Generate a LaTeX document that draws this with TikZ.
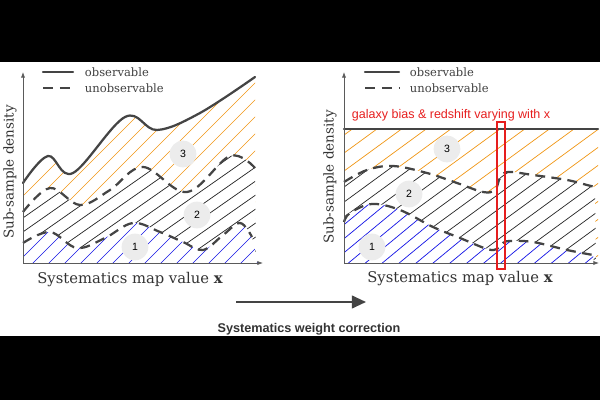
\documentclass[tikz,border=0pt]{standalone}
\usepackage{fontspec}
\setmainfont{DejaVu Serif}
\setsansfont{Liberation Sans}
\usetikzlibrary{positioning,arrows.meta}
\usepackage{xcolor}
\definecolor{curvegray}{RGB}{68,68,68}
\definecolor{axisgray}{RGB}{90,90,90}
\definecolor{hatchorange}{RGB}{240,150,20}
\definecolor{hatchblue}{RGB}{20,20,230}
\definecolor{badgegray}{RGB}{236,236,236}
\definecolor{boxred}{RGB}{230,30,30}

\begin{document}
\begin{tikzpicture}[
  x=0.025cm, y=-0.025cm,
  obs/.style={draw=curvegray, line width=1.6pt, line cap=round},
  unobs/.style={draw=curvegray, line width=1.6pt, dash pattern=on 7pt off 4.5pt},
  axis/.style={draw=axisgray, line width=0.6pt, -{Latex[length=4pt,width=3pt]}},
  orangehatch/.style={draw=hatchorange, line width=0.5pt},
  blackhatch/.style={draw=black!85, line width=0.5pt},
  bluehatch/.style={draw=hatchblue, line width=0.5pt},
  badge/.style={circle, fill=badgegray, minimum size=19pt, inner sep=0pt,
                font=\sffamily\fontsize{7.5}{8}\selectfont},
  axislbl/.style={text=black!80, font=\fontsize{10.5}{12}\selectfont},
  ylbl/.style={text=black!80, rotate=90, font=\fontsize{9.6}{11}\selectfont},
  leglbl/.style={text=black!75, anchor=west, font=\fontsize{8.2}{9}\selectfont},
  redlbl/.style={text=boxred, anchor=west, font=\sffamily\fontsize{8.9}{10}\selectfont},
  smooth, tension=0.6,
]
\useasboundingbox (0,0) rectangle (600,400);

% ---- Letterbox bars ---------------------------------------------------------
\fill[black] (0,0) rectangle (600,62);
\fill[black] (0,336) rectangle (600,400);

% ---- Left panel: before the correction --------------------------------------
% region 3 (orange), below the observable curve
\begin{scope}
  \clip (23,263) -- plot coordinates {(23,183) (48,156) (73,173)
    (125,117) (157,130) (200,113) (255,77)} -- (255,263) -- cycle;
  \foreach \y in {100,117,...,600}{
    \draw[orangehatch] (0,\y) -- ++(300,-300);
  }
\end{scope}
% region 2 (black), below the upper dashed curve
\begin{scope}
  \fill[white] (23,263) -- plot coordinates {(23,212) (50,188) (80,205)
    (110,190) (143,167) (187,192) (230,156) (255,168)} -- (256,263) -- cycle;
  \clip (23,263) -- plot coordinates {(23,212) (50,188) (80,205)
    (110,190) (143,167) (187,192) (230,156) (255,168)} -- (256,263) -- cycle;
  \foreach \y in {150,164,...,500}{
    \draw[blackhatch] (0,\y) -- ++(300,-210);
  }
\end{scope}
% region 1 (blue), below the lower dashed curve
\begin{scope}
  \fill[white] (23,263) -- plot coordinates {(23,243) (50,232) (77,248)
    (105,238) (133,223) (160,232) (183,242) (203,250) (222,236) (240,223)
    (252,237)} -- (258,263) -- cycle;
  \clip (23,263) -- plot coordinates {(23,243) (50,232) (77,248)
    (105,238) (133,223) (160,232) (183,242) (203,250) (222,236) (240,223)
    (252,237)} -- (258,263) -- cycle;
  \foreach \y in {200,216,...,600}{
    \draw[bluehatch] (0,\y) -- ++(300,-300);
  }
\end{scope}

% curves
\draw[obs] plot coordinates {(23,183) (48,156) (73,173)
  (125,117) (157,130) (200,113) (255,77)};
\draw[unobs] plot coordinates {(23,212) (50,188) (80,205)
  (110,190) (143,167) (187,192) (230,156) (255,168)};
\draw[unobs] plot coordinates {(23,243) (50,232) (77,248)
  (105,238) (133,223) (160,232) (183,242) (203,250) (222,236) (240,223) (252,237)};

% axes
\draw[axis] (23,263) -- (23,72);
\draw[axis] (23,263) -- (263,263);
\node[ylbl] (ylblL) at (10,172) {Sub-sample density};
\node[axislbl] (xlblL) at (130,280) {Systematics map value \textbf{x}};

% legend
\draw[obs] (43,72) -- (73,72);
\draw[unobs, dash pattern=on 7pt off 5pt] (43,88) -- (75,88);
\node[leglbl] (obsL) at (80,72) {observable};
\node[leglbl] (unobsL) at (80,88) {unobservable};

% badges
\node[badge] (threeL) at (183,154) {3};
\node[badge] (twoL) at (197,215) {2};
\node[badge] (oneL) at (135,247) {1};

% ---- Right panel: after the correction --------------------------------------
% region 3 (orange), below the flat observable line
\begin{scope}
  \clip (344,129) rectangle (598,263);
  \foreach \y in {120,138,...,600}{
    \draw[orangehatch] (340,\y) -- ++(260,-190);
  }
\end{scope}
% region 2 (black)
\begin{scope}
  \fill[white] (344,263) -- plot coordinates {(344,182) (367,170) (393,166)
    (427,173) (457,183) (483,192) (495,190) (500,178) (508,172) (533,175)
    (567,180) (587,185) (595,187)} -- (596,263) -- cycle;
  \clip (344,263) -- plot coordinates {(344,182) (367,170) (393,166)
    (427,173) (457,183) (483,192) (495,190) (500,178) (508,172) (533,175)
    (567,180) (587,185) (595,187)} -- (596,263) -- cycle;
  \foreach \y in {160,175,...,600}{
    \draw[blackhatch] (340,\y) -- ++(260,-190);
  }
\end{scope}
% region 1 (blue)
\begin{scope}
  \fill[white] (344,263) -- plot coordinates {(344,222) (350,213) (372,204)
    (400,210) (433,227) (460,238) (487,249) (497,249) (503,243) (510,241)
    (533,242) (567,250) (593,255)} -- (594,263) -- cycle;
  \clip (344,263) -- plot coordinates {(344,222) (350,213) (372,204)
    (400,210) (433,227) (460,238) (487,249) (497,249) (503,243) (510,241)
    (533,242) (567,250) (593,255)} -- (594,263) -- cycle;
  \foreach \y in {200,214,...,600}{
    \draw[bluehatch] (340,\y) -- ++(260,-215);
  }
\end{scope}

% curves
\draw[obs] (344,129) -- (598,129);
\draw[unobs] plot coordinates {(344,182) (367,170) (393,166)
  (427,173) (457,183) (483,192) (495,190) (500,178) (508,172) (533,175) (567,180)
  (587,185) (595,187)};
\draw[unobs] plot coordinates {(344,222) (350,213) (372,204)
  (400,210) (433,227) (460,238) (487,249) (497,249) (503,243) (510,241) (533,242)
  (567,250) (593,255)};

% axes
\draw[axis] (344,263) -- (344,72);
\draw[axis] (344,263) -- (599,263);
\node[ylbl] (ylblR) at (330,177) {Sub-sample density};
\node[axislbl] (xlblR) at (460,279) {Systematics map value \textbf{x}};

% legend
\draw[obs] (365,72) -- (399,72);
\draw[unobs, dash pattern=on 7pt off 5pt] (365,88) -- (399,88);
\node[leglbl] (obsR) at (405,72) {observable};
\node[leglbl] (unobsR) at (405,88) {unobservable};

% varying bias / redshift
\node[redlbl] (biaslbl) at (347,115) {galaxy bias \& redshift varying with x};
\draw[draw=boxred, line width=0.9pt] (497,122) rectangle (505,269);

% badges
\node[badge] (threeR) at (447,149) {3};
\node[badge] (twoR) at (409,194) {2};
\node[badge] (oneR) at (372,247) {1};

% ---- Correction arrow ---------------------------------------------------------
\coordinate (corrstart) at (236,302);
\coordinate (corrend) at (366,302);
\draw[draw=curvegray, line width=1.5pt, -{Triangle[length=10pt,width=9pt]}]
  (corrstart) -- (corrend);
\node[font=\sffamily\bfseries\fontsize{9}{10}\selectfont, text=black!80]
  (corrlbl) at (309,329) {Systematics weight correction};

\end{tikzpicture}
\end{document}
